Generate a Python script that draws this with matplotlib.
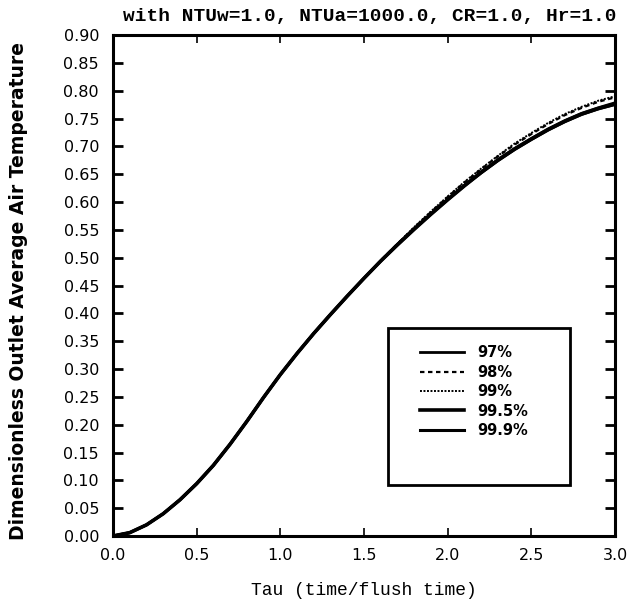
import numpy as np
import matplotlib
matplotlib.use("Agg")
import matplotlib.pyplot as plt
from matplotlib.patches import Rectangle

# Dimensionless time (tau = time / flush time)
tau = [0.0, 0.1, 0.2, 0.3, 0.4, 0.5, 0.6, 0.7, 0.8, 0.9, 1.0,
       1.1, 1.2, 1.3, 1.4, 1.5, 1.6, 1.7, 1.8, 1.9, 2.0,
       2.1, 2.2, 2.3, 2.4, 2.5, 2.6, 2.7, 2.8, 2.9, 3.0]

# Outlet average air temperature for each effectiveness level
temp_97 = [0.000, 0.006, 0.020, 0.040, 0.065, 0.094, 0.127, 0.165, 0.206, 0.249, 0.290,
           0.328, 0.364, 0.398, 0.431, 0.463, 0.494, 0.523, 0.551, 0.578, 0.604,
           0.629, 0.652, 0.674, 0.694, 0.712, 0.729, 0.744, 0.757, 0.767, 0.775]
temp_98 = [0.000, 0.006, 0.020, 0.040, 0.065, 0.094, 0.127, 0.165, 0.206, 0.249, 0.290,
           0.328, 0.364, 0.398, 0.431, 0.463, 0.495, 0.525, 0.554, 0.582, 0.609,
           0.635, 0.659, 0.682, 0.703, 0.722, 0.740, 0.756, 0.769, 0.780, 0.788]
temp_99 = [0.000, 0.006, 0.020, 0.040, 0.065, 0.094, 0.127, 0.165, 0.206, 0.249, 0.290,
           0.328, 0.364, 0.398, 0.431, 0.463, 0.495, 0.525, 0.555, 0.583, 0.610,
           0.636, 0.660, 0.683, 0.705, 0.724, 0.742, 0.758, 0.771, 0.782, 0.790]
temp_995 = [0.000, 0.006, 0.020, 0.040, 0.065, 0.094, 0.127, 0.165, 0.206, 0.249, 0.290,
            0.328, 0.364, 0.398, 0.431, 0.463, 0.494, 0.523, 0.551, 0.578, 0.604,
            0.629, 0.653, 0.675, 0.695, 0.713, 0.730, 0.745, 0.758, 0.768, 0.776]
temp_999 = [0.000, 0.006, 0.020, 0.040, 0.065, 0.094, 0.127, 0.165, 0.206, 0.249, 0.290,
            0.328, 0.364, 0.398, 0.431, 0.463, 0.494, 0.524, 0.552, 0.579, 0.605,
            0.630, 0.654, 0.676, 0.696, 0.714, 0.731, 0.746, 0.759, 0.769, 0.778]

series_labels = ["97%", "98%", "99%", "99.5%", "99.9%"]
x_ticks = [0.0, 0.5, 1.0, 1.5, 2.0, 2.5, 3.0]
y_ticks = [round(0.05 * i, 2) for i in range(19)]

fig = plt.figure(figsize=(6.33, 6.11), dpi=100)
ax = fig.add_axes([113 / 633, 1 - 536 / 611, 502 / 633, 501 / 611])

styles = [
    dict(color="black", lw=2.0, ls="-"),
    dict(color="black", lw=1.6, ls=(0, (2.0, 1.6))),
    dict(color="black", lw=1.4, ls=(0, (1.0, 0.8))),
    dict(color="black", lw=2.6, ls="-"),
    dict(color="black", lw=2.2, ls="-"),
]
series = [temp_97, temp_98, temp_99, temp_995, temp_999]
handles = []
for vals, lab, st in zip(series, series_labels, styles):
    h, = ax.plot(tau, vals, label=lab, solid_joinstyle="round", **st)
    handles.append(h)

ax.set_xlim(0.0, 3.0)
ax.set_ylim(0.0, 0.90)
ax.set_xticks(x_ticks)
ax.set_xticklabels([f"{v:.1f}" for v in x_ticks])
ax.set_yticks(y_ticks)
ax.set_yticklabels([f"{v:.2f}" for v in y_ticks])

for lbl in ax.get_xticklabels() + ax.get_yticklabels():
    lbl.set_fontfamily("DejaVu Sans")
    lbl.set_fontsize(11.5)

ax.tick_params(axis="y", which="major", direction="in", length=7, width=2.0,
               left=True, right=True, pad=10)
ax.tick_params(axis="x", which="major", direction="in", length=6, width=1.2,
               bottom=True, top=True, pad=9)
for sp in ax.spines.values():
    sp.set_linewidth(2.2)

ax.set_xlabel("Tau (time/flush time)", family="Liberation Mono", fontsize=13,
              labelpad=13)
ax.set_ylabel("Dimensionless Outlet Average Air Temperature", family="DejaVu Sans",
              fontweight="bold", fontsize=13.5)
ax.yaxis.set_label_coords(-0.17, 0.49)

fig.text(370 / 633, 1 - 16 / 611, "with NTUw=1.0, NTUa=1000.0, CR=1.0, Hr=1.0",
         family="Liberation Mono", fontweight="bold", fontsize=14,
         ha="center", va="center")

# Legend box with extra room beneath the entries
box = Rectangle((0.548, 0.102), 0.362, 0.313, transform=ax.transAxes,
                fill=False, lw=2.0, ec="black", zorder=5)
ax.add_patch(box)
leg = ax.legend(handles=handles, loc="upper left", bbox_to_anchor=(0.598, 0.395),
                frameon=False, handlelength=3.0, handletextpad=0.9,
                labelspacing=0.3, borderpad=0.0,
                prop=dict(family="DejaVu Sans", weight="bold", size=10.5))

fig.savefig("out.png", dpi=100)
